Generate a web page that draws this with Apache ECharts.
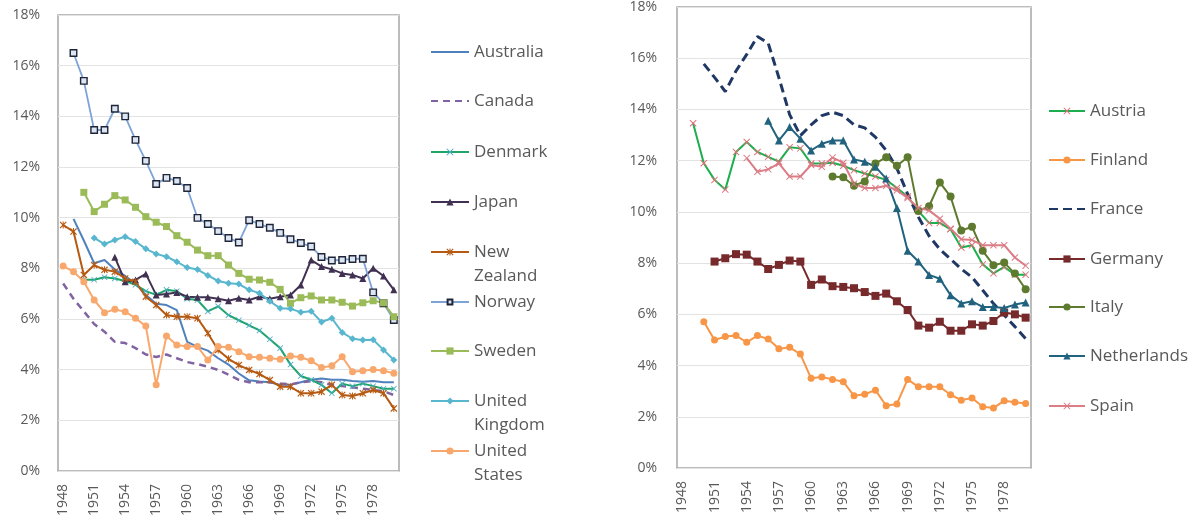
<!DOCTYPE html>
<html>
<head>
<meta charset="utf-8">
<script src="https://cdn.jsdelivr.net/npm/echarts@6/dist/echarts.min.js"></script>
<style>
html,body{margin:0;padding:0;background:#fff;}
#c{width:1189px;height:526px;}
</style>
</head>
<body>
<div id="c"></div>
<script>
// ---- data (percent) ----
const years = [];
for (let y = 1948; y <= 1980; y++) years.push(String(y));
const yTicks = [0, 2, 4, 6, 8, 10, 12, 14, 16, 18];

// left panel
const australia = [null, 9.95, 9.1, 8.2, 8.33, 7.95, 7.7, 7.4, 6.95, 6.6, 6.55, 6.35, 5.1, 4.9, 4.75, 4.45, 4.2, 3.85, 3.58, 3.53, 3.5, 3.4, 3.4, 3.5, 3.6, 3.65, 3.6, 3.6, 3.55, 3.52, 3.55, 3.5, 3.5];
const canada = [7.4, 6.8, 6.3, 5.8, 5.5, 5.1, 5.05, 4.85, 4.6, 4.5, 4.6, 4.45, 4.3, 4.22, 4.12, 3.99, 3.8, 3.6, 3.5, 3.5, 3.5, 3.45, 3.42, 3.5, 3.55, 3.5, 3.4, 3.35, 3.3, 3.25, 3.2, 3.15, 3.0];
const denmark = [null, null, 7.55, 7.55, 7.65, 7.6, 7.5, 7.35, 7.1, 6.95, 7.15, 7.1, 6.8, 6.75, 6.3, 6.5, 6.15, 5.95, 5.75, 5.55, 5.2, 4.85, 4.2, 3.75, 3.6, 3.4, 3.07, 3.45, 3.35, 3.45, 3.35, 3.25, 3.25];
const japan = [null, null, null, null, null, 8.44, 7.47, 7.54, 7.78, 6.95, 6.99, 7.05, 6.88, 6.86, 6.86, 6.8, 6.72, 6.82, 6.75, 6.88, 6.8, 6.88, 6.95, 7.34, 8.33, 8.07, 7.96, 7.8, 7.74, 7.6, 8.0, 7.7, 7.15];
const newZealand = [9.71, 9.45, 7.74, 8.13, 7.94, 7.87, 7.6, 7.47, 6.88, 6.55, 6.16, 6.09, 6.09, 6.03, 5.44, 4.78, 4.43, 4.18, 3.99, 3.83, 3.59, 3.33, 3.33, 3.07, 3.07, 3.13, 3.4, 3.0, 2.96, 3.07, 3.2, 3.07, 2.47];
const norway = [null, 16.5, 15.4, 13.46, 13.46, 14.3, 14.0, 13.07, 12.24, 11.33, 11.57, 11.45, 11.17, 9.99, 9.75, 9.47, 9.2, 9.02, 9.9, 9.75, 9.6, 9.4, 9.15, 9.0, 8.86, 8.45, 8.31, 8.33, 8.37, 8.38, 7.05, 6.62, 5.96];
const sweden = [null, null, 11.0, 10.24, 10.53, 10.87, 10.7, 10.41, 10.04, 9.82, 9.65, 9.29, 9.03, 8.72, 8.5, 8.5, 8.13, 7.8, 7.57, 7.54, 7.45, 7.17, 6.62, 6.84, 6.91, 6.75, 6.75, 6.66, 6.51, 6.64, 6.72, 6.64, 6.09];
const unitedKingdom = [null, null, null, 9.2, 8.96, 9.12, 9.25, 9.06, 8.77, 8.57, 8.46, 8.26, 8.03, 7.95, 7.72, 7.5, 7.41, 7.38, 7.15, 7.02, 6.7, 6.42, 6.4, 6.27, 6.31, 5.88, 6.03, 5.47, 5.22, 5.17, 5.18, 4.78, 4.38];
const unitedStates = [8.09, 7.87, 7.47, 6.75, 6.25, 6.38, 6.29, 6.03, 5.72, 3.4, 5.33, 4.97, 4.91, 4.91, 4.38, 4.91, 4.88, 4.71, 4.51, 4.49, 4.45, 4.41, 4.54, 4.49, 4.35, 4.09, 4.15, 4.51, 3.92, 3.96, 4.01, 3.96, 3.86];

// right panel
const austria = [null, 13.46, 11.9, 11.25, 10.87, 12.34, 12.73, 12.34, 12.15, 11.96, 12.52, 12.48, 11.89, 11.89, 11.92, 11.8, 11.63, 11.5, 11.38, 11.25, 10.93, 10.6, 10.03, 9.57, 9.57, 9.32, 8.61, 8.7, 7.95, 7.6, 7.85, 7.55, 7.55];
const finland = [null, null, 5.71, 5.0, 5.13, 5.17, 4.91, 5.17, 5.04, 4.66, 4.71, 4.45, 3.5, 3.55, 3.46, 3.37, 2.82, 2.88, 3.04, 2.43, 2.5, 3.46, 3.17, 3.17, 3.17, 2.86, 2.65, 2.73, 2.39, 2.34, 2.63, 2.57, 2.52];
const france = [null, null, 15.78, 15.25, 14.7, 15.5, 16.15, 16.85, 16.59, 15.24, 13.8, 12.98, 13.4, 13.76, 13.89, 13.76, 13.4, 13.28, 12.92, 12.4, 11.7, 10.7, 9.8, 9.06, 8.54, 8.16, 7.77, 7.45, 6.94, 6.42, 5.97, 5.52, 5.05];
const germany = [null, null, null, 8.06, 8.19, 8.35, 8.33, 8.06, 7.77, 7.93, 8.1, 8.06, 7.15, 7.36, 7.1, 7.07, 7.02, 6.87, 6.72, 6.81, 6.51, 6.17, 5.56, 5.48, 5.71, 5.36, 5.36, 5.61, 5.56, 5.74, 6.07, 6.0, 5.87];
const italy = [null, null, null, null, null, null, null, null, null, null, null, null, null, null, 11.38, 11.35, 11.02, 11.19, 11.89, 12.13, 11.8, 12.13, 10.03, 10.22, 11.15, 10.6, 9.27, 9.42, 8.48, 7.92, 8.02, 7.59, 6.98];
const netherlands = [null, null, null, null, null, null, null, null, 13.56, 12.79, 13.31, 12.86, 12.4, 12.66, 12.79, 12.79, 12.05, 11.96, 11.76, 11.3, 10.15, 8.48, 8.06, 7.54, 7.39, 6.75, 6.42, 6.51, 6.29, 6.29, 6.25, 6.38, 6.46];
const spain = [null, null, null, null, null, null, 12.1, 11.57, 11.66, 11.89, 11.38, 11.38, 11.83, 11.76, 12.12, 11.92, 11.1, 10.93, 10.93, 11.02, 10.84, 10.54, 10.15, 10.06, 9.73, 9.34, 8.93, 8.9, 8.7, 8.7, 8.7, 8.22, 7.9];

// ---- styling ----
const FONT = 'Open Sans';
const TXT = '#595959';
const X_SYM = 'path://M0,1 L1,0 L5,4 L9,0 L10,1 L6,5 L10,9 L9,10 L5,6 L1,10 L0,9 L4,5 Z';
const STAR_SYM = 'path://M0,1.2 L1.2,0 L5,3.8 L8.8,0 L10,1.2 L6.2,5 L10,8.8 L8.8,10 L5,6.2 L1.2,10 L0,8.8 L3.8,5 Z M4.3,0 L5.7,0 L5.7,10 L4.3,10 Z';

function line(name, data, idx, color, o) {
  o = o || {};
  const hasSym = !!o.symbol;
  return {
    name: name, type: 'line', data: data,
    xAxisIndex: idx, yAxisIndex: idx,
    symbol: hasSym ? o.symbol : 'circle',
    symbolSize: hasSym ? (o.size || 7) : 0,
    showSymbol: hasSym,
    showAllSymbol: true,
    lineStyle: { color: color, width: o.width || 2, type: o.dash || 'solid' },
    itemStyle: hasSym ? {
      color: o.fill || o.mcolor || color,
      borderColor: o.border || o.mcolor || color,
      borderWidth: o.bw || 0
    } : { color: 'rgba(0,0,0,0)', borderWidth: 0 },
    emphasis: { disabled: true },
    z: o.z || 2
  };
}

const series = [
  line('Australia', australia, 0, '#4F81BD', {}),
  line('Canada', canada, 0, '#8064A2', { dash: [7, 5], width: 2.5 }),
  line('Denmark', denmark, 0, '#1FA46A', { symbol: X_SYM, size: 6, mcolor: '#4BACC6' }),
  line('Japan', japan, 0, '#403152', { symbol: 'triangle', size: 7 }),
  line('New Zealand', newZealand, 0, '#B65A12', { symbol: STAR_SYM, size: 7 }),
  line('Norway', norway, 0, '#7EA3D6', { symbol: 'rect', size: 6.5, fill: '#DCE6F2', border: '#1F2438', bw: 1.4, width: 1.8 }),
  line('Sweden', sweden, 0, '#9BBB59', { symbol: 'rect', size: 7 }),
  line('United Kingdom', unitedKingdom, 0, '#58B6CF', { symbol: 'diamond', size: 7 }),
  line('United States', unitedStates, 0, '#F9A86D', { symbol: 'circle', size: 7 }),

  line('Austria', austria, 1, '#1DAE4E', { symbol: X_SYM, size: 7, mcolor: '#E06F78' }),
  line('Finland', finland, 1, '#F79646', { symbol: 'circle', size: 7 }),
  line('France', france, 1, '#1F3864', { dash: [9, 5], width: 3 }),
  line('Germany', germany, 1, '#772A2C', { symbol: 'rect', size: 8 }),
  line('Italy', italy, 1, '#5E7A2E', { symbol: 'circle', size: 8 }),
  line('Netherlands', netherlands, 1, '#21637F', { symbol: 'triangle', size: 8 }),
  line('Spain', spain, 1, '#DA7D86', { symbol: X_SYM, size: 7 })
];

// legends: one component per item so positions match
const legendLeft = [
  ['Australia', 52, ['Australia']], ['Canada', 101, ['Canada']], ['Denmark', 152, ['Denmark']],
  ['Japan', 202, ['Japan']], ['New Zealand', 252, ['New', 'Zealand']], ['Norway', 302, ['Norway']],
  ['Sweden', 351, ['Sweden']], ['United Kingdom', 401, ['United', 'Kingdom']], ['United States', 451, ['United', 'States']]
];
const legendRight = [
  ['Austria', 111, ['Austria']], ['Finland', 160, ['Finland']], ['France', 209, ['France']],
  ['Germany', 259, ['Germany']], ['Italy', 307, ['Italy']], ['Netherlands', 356, ['Netherlands']], ['Spain', 406, ['Spain']]
];
const LH = 24;
function mkLegend(item, left, w) {
  const lines = item[2];
  const txt = lines.length > 1 ? ' \n' + lines.join('\n') : lines[0];
  const n = lines.length > 1 ? 3 : 1;
  const ih = item[0] === 'Norway' ? 6 : 9;
  return {
    data: [item[0]], left: left, top: item[1] - (n * LH) / 2,
    orient: 'vertical', padding: 0, itemGap: 0,
    itemWidth: w, itemHeight: ih, selectedMode: false,
    formatter: function () { return txt; },
    textStyle: { fontFamily: FONT, fontSize: 17, color: TXT, lineHeight: LH }
  };
}
const legends = legendLeft.map(i => mkLegend(i, 430, 38)).concat(legendRight.map(i => mkLegend(i, 1048, 36)));

function xAxis(gi) {
  return {
    type: 'category', gridIndex: gi, data: years, boundaryGap: true,
    axisLine: { show: false }, axisTick: { show: false },
    axisLabel: { interval: 2, rotate: 90, margin: 13, color: TXT, fontFamily: FONT, fontSize: 14 }
  };
}
function yAxis(gi, margin) {
  return {
    type: 'value', gridIndex: gi, min: yTicks[0], max: yTicks[yTicks.length - 1], interval: 2,
    axisLine: { show: false }, axisTick: { show: false },
    splitLine: { lineStyle: { color: '#E3E3E3', width: 1 } },
    axisLabel: { margin: margin, color: TXT, fontFamily: FONT, fontSize: 14, formatter: '{value}%' }
  };
}

const chart = echarts.init(document.getElementById('c'), null, { renderer: 'canvas' });
chart.setOption({
  animation: false,
  backgroundColor: '#ffffff',
  grid: [
    { left: 58, top: 15, width: 341, height: 456, show: true, borderColor: '#A6A6A6', borderWidth: 1.5 },
    { left: 677, top: 2, width: 354, height: 466, show: true, borderColor: '#A6A6A6', borderWidth: 1.5 }
  ],
  xAxis: [xAxis(0), xAxis(1)],
  yAxis: [yAxis(0, 18), yAxis(1, 20)],
  legend: legends,
  series: series
});
</script>
</body>
</html>
